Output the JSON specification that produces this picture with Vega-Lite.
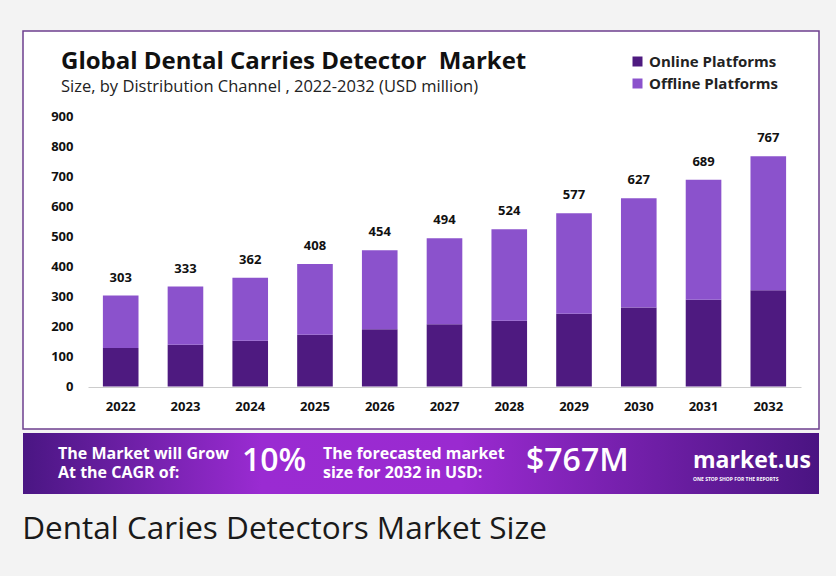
{
  "$schema": "https://vega.github.io/schema/vega-lite/v6.json",
  "background": "#f3f3f3",
  "padding": {"left": 22, "top": 30, "right": 18, "bottom": 30},
  "spacing": 3,
  "config": {"view": {"stroke": null}, "font": "Open Sans"},
  "title": {
    "text": "Dental Caries Detectors Market Size",
    "orient": "bottom",
    "anchor": "start",
    "offset": 20,
    "font": "Open Sans",
    "fontSize": 31.5,
    "fontWeight": "normal",
    "color": "#1a1a1a"
  },
  "vconcat": [
    {
      "width": 796,
      "height": 398,
      "view": {"fill": "white", "stroke": "#6e3f8f", "strokeWidth": 1.5},
      "title": {
        "text": "Global Dental Carries Detector\u00a0 Market",
        "subtitle": "Size, by Distribution Channel , 2022-2032 (USD million)",
        "anchor": "start",
        "frame": "group",
        "offset": -64,
        "dx": 38,
        "font": "Open Sans",
        "fontSize": 24,
        "fontWeight": "bold",
        "color": "#111111",
        "subtitleFont": "Open Sans",
        "subtitleFontSize": 16.5,
        "subtitleColor": "#222222",
        "subtitlePadding": 5
      },
      "data": {
        "values": [
          {"year": "2022", "series": "Online Platforms", "value": 128},
          {"year": "2022", "series": "Offline Platforms", "value": 175},
          {"year": "2023", "series": "Online Platforms", "value": 139},
          {"year": "2023", "series": "Offline Platforms", "value": 194},
          {"year": "2024", "series": "Online Platforms", "value": 152},
          {"year": "2024", "series": "Offline Platforms", "value": 210},
          {"year": "2025", "series": "Online Platforms", "value": 172},
          {"year": "2025", "series": "Offline Platforms", "value": 236},
          {"year": "2026", "series": "Online Platforms", "value": 191},
          {"year": "2026", "series": "Offline Platforms", "value": 263},
          {"year": "2027", "series": "Online Platforms", "value": 207},
          {"year": "2027", "series": "Offline Platforms", "value": 287},
          {"year": "2028", "series": "Online Platforms", "value": 219},
          {"year": "2028", "series": "Offline Platforms", "value": 305},
          {"year": "2029", "series": "Online Platforms", "value": 242},
          {"year": "2029", "series": "Offline Platforms", "value": 335},
          {"year": "2030", "series": "Online Platforms", "value": 263},
          {"year": "2030", "series": "Offline Platforms", "value": 364},
          {"year": "2031", "series": "Online Platforms", "value": 289},
          {"year": "2031", "series": "Offline Platforms", "value": 400},
          {"year": "2032", "series": "Online Platforms", "value": 321},
          {"year": "2032", "series": "Offline Platforms", "value": 446}
        ]
      },
      "encoding": {
        "x": {
          "field": "year",
          "type": "ordinal",
          "scale": {"range": [65, 778], "paddingInner": 0.45, "paddingOuter": 0.23},
          "axis": {
            "title": null,
            "labelAngle": 0,
            "labelFont": "Open Sans",
            "labelFontSize": 13,
            "labelFontWeight": "bold",
            "labelColor": "#111111",
            "ticks": false,
            "domain": true,
            "domainColor": "#cccccc",
            "labelPadding": 13,
            "offset": -42
          }
        }
      },
      "layer": [
        {
          "mark": {"type": "bar"},
          "encoding": {
            "y": {
              "field": "value",
              "type": "quantitative",
              "stack": "zero",
              "scale": {"domain": [-142, 1185], "nice": false, "zero": false},
              "axis": {
                "title": null,
                "values": [0, 100, 200, 300, 400, 500, 600, 700, 800, 900],
                "grid": false,
                "ticks": false,
                "domain": false,
                "labelFont": "Open Sans",
                "labelFontSize": 13,
                "labelFontWeight": "bold",
                "labelColor": "#111111",
                "labelPadding": 4,
                "offset": -54
              }
            },
            "color": {
              "field": "series",
              "type": "nominal",
              "scale": {
                "domain": ["Online Platforms", "Offline Platforms"],
                "range": ["#4e1a80", "#8b52cc"]
              },
              "legend": {
                "title": null,
                "orient": "none",
                "legendX": 607,
                "legendY": 23,
                "symbolType": "square",
                "symbolSize": 100,
                "symbolStrokeWidth": 0,
                "labelFont": "Open Sans",
                "labelFontSize": 15,
                "labelFontWeight": "bold",
                "labelColor": "#222222",
                "rowPadding": 6
              }
            },
            "order": {"field": "series", "sort": "descending"}
          }
        },
        {
          "transform": [
            {"aggregate": [{"op": "sum", "field": "value", "as": "total"}], "groupby": ["year"]}
          ],
          "mark": {
            "type": "text",
            "baseline": "bottom",
            "dy": -11,
            "font": "Open Sans",
            "fontSize": 13,
            "fontWeight": "bold",
            "color": "#111111"
          },
          "encoding": {
            "y": {"field": "total", "type": "quantitative"},
            "text": {"field": "total", "type": "quantitative"}
          }
        }
      ]
    },
    {
      "width": 796,
      "height": 61,
      "data": {
        "values": [
          {"slot": 1, "part": "cagr_text", "text": ["The Market will Grow", "At the CAGR of:"]},
          {"slot": 2, "part": "cagr", "text": "10%"},
          {"slot": 3, "part": "size_text", "text": ["The forecasted market", "size for 2032 in USD:"]},
          {"slot": 4, "part": "size", "text": "$767M"},
          {"slot": 5, "part": "logo", "text": "market.us"},
          {"slot": 5, "part": "tagline", "text": "ONE STOP SHOP FOR THE REPORTS"}
        ]
      },
      "encoding": {
        "x": {
          "field": "slot",
          "type": "quantitative",
          "scale": {
            "domain": [1, 2, 3, 4, 5],
            "range": [35, 219, 300, 503, 670],
            "nice": false,
            "zero": false
          },
          "axis": null
        }
      },
      "layer": [
        {
          "transform": [{"filter": "datum.part === 'cagr'"}],
          "mark": {
            "type": "rect",
            "fill": {
              "gradient": "linear",
              "x1": 0, "y1": 0, "x2": 1, "y2": 0,
              "stops": [
                {"offset": 0, "color": "#4a1683"},
                {"offset": 0.3, "color": "#9a2bd2"},
                {"offset": 0.55, "color": "#9a2ad0"},
                {"offset": 1, "color": "#4a1482"}
              ]
            }
          },
          "encoding": {"x": null}
        },
        {
          "transform": [{"filter": {"field": "part", "oneOf": ["cagr_text", "size_text"]}}],
          "mark": {
            "type": "text",
            "align": "left",
            "baseline": "middle",
            "dy": -9.5,
            "font": "Open Sans",
            "fontSize": 16,
            "fontWeight": "bold",
            "color": "white",
            "lineHeight": 19
          },
          "encoding": {"text": {"field": "text"}}
        },
        {
          "transform": [{"filter": {"field": "part", "oneOf": ["cagr", "size"]}}],
          "mark": {
            "type": "text",
            "align": "left",
            "baseline": "middle",
            "dy": -3,
            "font": "Open Sans",
            "fontSize": 32,
            "fontWeight": 600,
            "color": "white"
          },
          "encoding": {"text": {"field": "text"}}
        },
        {
          "transform": [{"filter": "datum.part === 'logo'"}],
          "mark": {
            "type": "text",
            "align": "left",
            "baseline": "middle",
            "dy": -3,
            "font": "Open Sans",
            "fontSize": 23,
            "fontWeight": "bold",
            "color": "white"
          },
          "encoding": {"text": {"field": "text"}}
        },
        {
          "transform": [{"filter": "datum.part === 'tagline'"}],
          "mark": {
            "type": "text",
            "align": "left",
            "baseline": "middle",
            "dy": 15,
            "font": "Open Sans",
            "fontSize": 5,
            "fontWeight": "bold",
            "color": "white"
          },
          "encoding": {"text": {"field": "text"}}
        }
      ]
    }
  ]
}
